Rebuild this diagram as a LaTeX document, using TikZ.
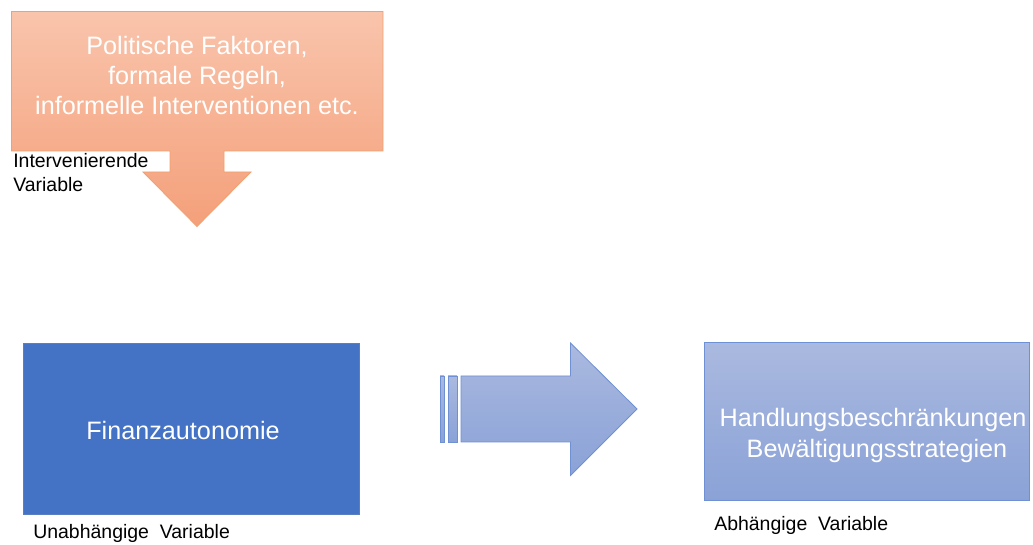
\documentclass[tikz,border=0pt]{standalone}
\usepackage{fontspec}
\setmainfont{Liberation Sans}
\definecolor{calloutTop}{HTML}{F9C4AC}
\definecolor{calloutBot}{HTML}{F4A07A}
\definecolor{calloutLine}{HTML}{F2A06E}
\definecolor{indepFill}{HTML}{4472C4}
\definecolor{indepLine}{HTML}{5A7EC2}
\definecolor{paleTop}{HTML}{AAB9DF}
\definecolor{paleBot}{HTML}{8AA2D7}
\definecolor{paleLine}{HTML}{6F90D2}
\tikzset{
  bigtext/.style={text=white, font=\fontsize{18.9pt}{22.5pt}\selectfont, inner sep=0pt, anchor=base},
  smalltext/.style={text=black, font=\fontsize{14.6pt}{18pt}\selectfont, inner sep=0pt, anchor=base west},
  paleshape/.style={draw=paleLine, line width=0.6pt, top color=paleTop, bottom color=paleBot},
}
\begin{document}
\begin{tikzpicture}[x=0.75pt, y=-0.75pt]
  \useasboundingbox (0,0) rectangle (1033,545);

  % intervening factors: callout box pointing down
  \draw[draw=calloutLine, line width=0.6pt, top color=calloutTop, bottom color=calloutBot]
    (11.5,11.5) -- (383,11.5) -- (383,151) -- (224,151) -- (224,172) -- (251,172)
    -- (197,226.5) -- (143,172) -- (170,172) -- (170,151) -- (11.5,151) -- cycle;
  \node[bigtext] (pol1) at (197,55) {Politische Faktoren,};
  \node[bigtext] (pol2) at (197,85) {formale Regeln,};
  \node[bigtext] (pol3) at (197,115) {informelle Interventionen etc.};
  \node[smalltext] (int1) at (13,168) {Intervenierende};
  \node[smalltext] (int2) at (13,192) {Variable};

  % independent variable
  \draw[draw=indepLine, line width=0.6pt, fill=indepFill] (23,343) rectangle (359,514);
  \node[bigtext] (fin) at (183,440) {Finanzautonomie};
  \node[smalltext] (unab) at (33,538) {Unabhängige\ \ Variable};

  % striped block arrow
  \draw[paleshape] (440,376) rectangle (444,442);
  \draw[paleshape] (448,376) rectangle (457,442);
  \draw[paleshape] (461,376) -- (570.5,376) -- (570.5,343) -- (637,409)
    -- (570.5,475.5) -- (570.5,442) -- (461,442) -- cycle;

  % dependent variable
  \draw[paleshape] (704.5,342.5) rectangle (1029.5,500.5);
  \node[bigtext] (hand) at (873,427) {Handlungsbeschränkungen};
  \node[bigtext] (bew) at (877,458) {Bewältigungsstrategien};
  \node[smalltext] (abh) at (714,531) {Abhängige\ \ Variable};
\end{tikzpicture}
\end{document}
